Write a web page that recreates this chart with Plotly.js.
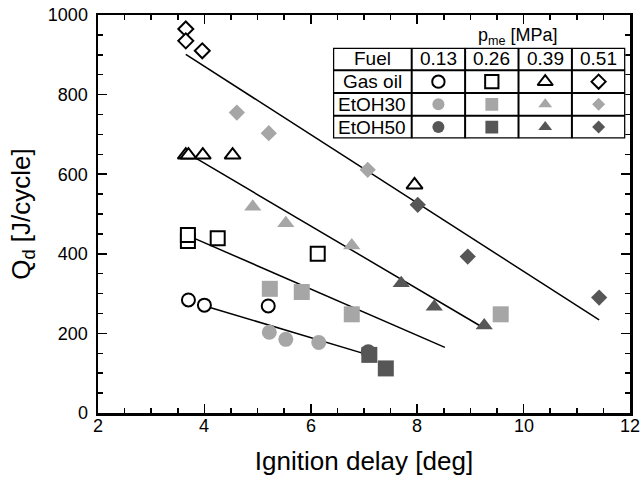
<!DOCTYPE html>
<html><head><meta charset="utf-8">
<script src="https://cdn.plot.ly/plotly-3.0.1.min.js"></script>
<style>html,body{margin:0;padding:0;background:#fff;} #chart{width:641px;height:483px;}</style>
</head><body><div id="chart"></div>
<script>
// ---- categories / tick labels ----
const pressures = ['0.13', '0.26', '0.39', '0.51'];
const fuels = ['Gas oil', 'EtOH30', 'EtOH50'];
const xTicks = [2, 4, 6, 8, 10, 12];
const yTicks = [0, 200, 400, 600, 800, 1000];

// ---- Gas oil ----
const gasOil013X = [3.70, 4.00, 5.20];
const gasOil013Y = [284, 271, 269];
const gasOil026X = [3.69, 3.69, 4.25, 6.13];
const gasOil026Y = [432, 447, 439, 400];
const gasOil039X = [3.65, 3.70, 3.97, 4.53, 7.95];
const gasOil039Y = [648, 648, 648, 648, 573];
const gasOil051X = [3.65, 3.65, 3.96];
const gasOil051Y = [965, 935, 910];

// ---- EtOH30 ----
const etoh30_013X = [5.22, 5.53, 6.15];
const etoh30_013Y = [203, 185, 177];
const etoh30_026X = [5.23, 5.83, 6.77, 9.57];
const etoh30_026Y = [312, 304, 248, 248];
const etoh30_039X = [4.91, 5.53, 6.77];
const etoh30_039Y = [518, 477, 421];
const etoh30_051X = [4.61, 5.21, 7.07];
const etoh30_051Y = [755, 703, 611];

// ---- EtOH50 ----
const etoh50_013X = [7.08];
const etoh50_013Y = [154];
const etoh50_026X = [7.10, 7.41];
const etoh50_026Y = [146, 112];
const etoh50_039X = [7.70, 8.32, 9.26];
const etoh50_039Y = [326, 267, 220];
const etoh50_051X = [8.01, 8.95, 11.42];
const etoh50_051Y = [523, 393, 290];

// ---- trend lines (one per p_me) ----
const fit013X = [4.01, 7.08];
const fit013Y = [269, 146];
const fit026X = [3.79, 8.52];
const fit026Y = [440, 165];
const fit039X = [3.79, 9.26];
const fit039Y = [644, 213];
const fit051X = [3.65, 11.42];
const fit051Y = [901, 234];

// ---- assemble ----
const seriesX = [
  [gasOil013X, gasOil026X, gasOil039X, gasOil051X],
  [etoh30_013X, etoh30_026X, etoh30_039X, etoh30_051X],
  [etoh50_013X, etoh50_026X, etoh50_039X, etoh50_051X]
];
const seriesY = [
  [gasOil013Y, gasOil026Y, gasOil039Y, gasOil051Y],
  [etoh30_013Y, etoh30_026Y, etoh30_039Y, etoh30_051Y],
  [etoh50_013Y, etoh50_026Y, etoh50_039Y, etoh50_051Y]
];
const fitX = [fit013X, fit026X, fit039X, fit051X];
const fitY = [fit013Y, fit026Y, fit039Y, fit051Y];

const symbols = ['circle', 'square', 'triangle-up', 'diamond'];
const fuelFill = ['white', '#a6a6a6', '#565656'];
const fuelLine = ['black', '#a6a6a6', '#565656'];
const fuelLineW = [2, 0, 0];
const openSizes = [13, 14, 14, 11.5];
const fillSizes = [15, 16, 15, 12.5];
const FONT = 'Liberation Sans, Arial, Helvetica, sans-serif';

const traces = [];
fitX.forEach((fx, i) => {
  traces.push({x: fx, y: fitY[i], mode: 'lines', type: 'scatter',
    line: {color: 'black', width: 1.5}, hoverinfo: 'skip'});
});
function mk(f, p, scale) {
  return {symbol: symbols[p], size: (f === 0 ? openSizes[p] : fillSizes[p]) * scale,
    color: fuelFill[f], line: {color: fuelLine[f], width: fuelLineW[f]}};
}
for (let p = 0; p < pressures.length; p++) {
  for (let f = 0; f < fuels.length; f++) {
    traces.push({x: seriesX[f][p], y: seriesY[f][p], mode: 'markers', type: 'scatter',
      marker: mk(f, p, 1), name: fuels[f] + ' ' + pressures[p]});
  }
}
// table legend symbols on an auxiliary axis pair (column = pressure, row = fuel)
for (let f = 0; f < fuels.length; f++) {
  for (let p = 0; p < pressures.length; p++) {
    traces.push({x: [p + 1], y: [f + 2], xaxis: 'x2', yaxis: 'y2', mode: 'markers',
      type: 'scatter', marker: mk(f, p, f === 0 ? 0.95 : 0.8), hoverinfo: 'skip'});
  }
}

// table grid
const shapes = [];
const tl = {color: 'black', width: 2};
shapes.push({type: 'rect', xref: 'x2', yref: 'y2', x0: -0.974, x1: 4.5, y0: 0.5, y1: 4.5, line: {color: 'black', width: 2.5}});
for (let c = 0; c < pressures.length; c++) {
  shapes.push({type: 'line', xref: 'x2', yref: 'y2', x0: c + 0.5, x1: c + 0.5, y0: 0.5, y1: 4.5, line: tl});
}
for (let r = 1; r <= fuels.length; r++) {
  shapes.push({type: 'line', xref: 'x2', yref: 'y2', x0: -0.974, x1: 4.5, y0: r + 0.5, y1: r + 0.5, line: tl});
}
const annotations = [];
const tf = {family: FONT, size: 19, color: 'black'};
annotations.push({xref: 'x2', yref: 'y2', x: -0.237, y: 1, text: 'Fuel', showarrow: false, font: tf});
pressures.forEach((p, i) => annotations.push({xref: 'x2', yref: 'y2', x: i + 1, y: 1, text: p, showarrow: false, font: tf}));
fuels.forEach((fu, i) => annotations.push({xref: 'x2', yref: 'y2', x: -0.237, y: i + 2, text: fu, showarrow: false, font: tf}));
annotations.push({xref: 'paper', yref: 'paper', x: 0.790, y: 0.947, xanchor: 'center', yanchor: 'middle',
  text: 'p<sub>me</sub> [MPa]', showarrow: false, font: {family: FONT, size: 18, color: 'black'}});
// x tick labels (placed close to the axis like the reference)
xTicks.forEach(t => annotations.push({xref: 'x', yref: 'paper', x: t, y: 0, xanchor: 'center', yanchor: 'top',
  yshift: -1, text: String(t), showarrow: false, font: {family: FONT, size: 18, color: 'black'}}));

const axisCommon = {
  showgrid: false, zeroline: false, showline: true, linecolor: 'black', linewidth: 2.5,
  mirror: 'allticks', ticks: 'inside', ticklen: 9, tickwidth: 1.5, tickcolor: 'black',
  tickfont: {family: FONT, size: 18, color: 'black'}
};
const layout = {
  width: 641, height: 483,
  margin: {l: 98, r: 11, t: 15, b: 70},
  paper_bgcolor: 'white', plot_bgcolor: 'white',
  showlegend: false, hovermode: false,
  font: {family: FONT, color: 'black'},
  xaxis: Object.assign({}, axisCommon, {
    range: [2, 12], tickvals: xTicks, showticklabels: false,
    minor: {dtick: 0.5, ticks: 'inside', ticklen: 5, tickwidth: 1.5, tickcolor: 'black'},
    title: {text: 'Ignition delay [deg]', font: {family: FONT, size: 26, color: 'black'}, standoff: 38}
  }),
  yaxis: Object.assign({}, axisCommon, {
    range: [0, 1000], tickvals: yTicks, ticktext: yTicks.map(String),
    ticklabelstandoff: 4,
    minor: {dtick: 50, ticks: 'inside', ticklen: 5, tickwidth: 1.5, tickcolor: 'black'},
    title: {text: 'Q<sub>d</sub> [J/cycle]', font: {family: FONT, size: 26, color: 'black'}, standoff: 10}
  }),
  xaxis2: {domain: [0.4417, 0.9912], anchor: 'y2', range: [-0.974, 4.5], visible: false, fixedrange: true},
  yaxis2: {domain: [0.690, 0.918], anchor: 'x2', range: [4.5, 0.5], visible: false, fixedrange: true},
  shapes: shapes, annotations: annotations
};
Plotly.newPlot('chart', traces, layout, {displayModeBar: false, staticPlot: true});
</script></body></html>
